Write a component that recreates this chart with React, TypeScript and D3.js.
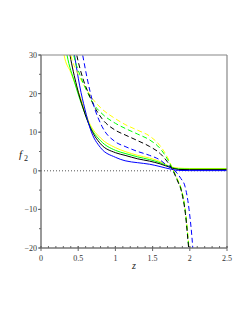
import React from "react";
import * as d3 from "d3";

const zSolid = [0.25, 0.31, 0.4, 0.52, 0.66, 0.8, 1.0, 1.13, 1.3, 1.46, 1.6, 1.75, 1.85, 2.0, 2.5];
const yellowSolid = [38, 30, 25.5, 19.5, 12, 8.5, 6, 5, 4, 3.3, 2.4, 1.0, 0.7, 0.6, 0.6];
const zGreenSolid = [0.3, 0.35, 0.45, 0.55, 0.66, 0.8, 1.0, 1.13, 1.3, 1.46, 1.6, 1.75, 1.85, 2.0, 2.5];
const greenSolid = [36, 30, 23, 17, 11.5, 7.8, 5.3, 4.5, 3.6, 2.9, 2.1, 0.9, 0.5, 0.45, 0.45];
const zBlackSolid = [0.34, 0.39, 0.48, 0.57, 0.66, 0.8, 1.0, 1.13, 1.3, 1.46, 1.6, 1.75, 1.85, 2.0, 2.5];
const blackSolid = [36, 30, 22, 16, 11.3, 7, 4.7, 4, 3.1, 2.5, 1.8, 0.8, 0.35, 0.3, 0.3];
const zBlueSolid = [0.4, 0.45, 0.52, 0.59, 0.66, 0.8, 1.0, 1.13, 1.3, 1.46, 1.6, 1.75, 1.85, 2.0, 2.5];
const blueSolid = [36, 30, 22, 16, 11, 6, 3.5, 2.6, 2.1, 1.7, 1.1, 0.4, 0.1, 0.05, 0.05];

const zYellowDash = [0.34, 0.4, 0.5, 0.6, 0.7, 0.82, 1.0, 1.13, 1.3, 1.46, 1.6, 1.7, 1.77, 1.83, 1.89, 1.94, 1.99, 2.02];
const yellowDash = [36, 30, 25, 21.5, 18.5, 16, 13.5, 12, 10.5, 9, 6.5, 3.5, 0.5, -2, -5, -10, -20, -26];
const zGreenDash = [0.38, 0.44, 0.54, 0.62, 0.7, 0.82, 1.0, 1.13, 1.3, 1.46, 1.6, 1.7, 1.77, 1.83, 1.89, 1.94, 1.99, 2.02];
const greenDash = [36, 30, 24, 20.5, 17.5, 14.8, 12.3, 11, 9.5, 8, 5.8, 3, 0.4, -2.2, -5.2, -10.5, -20.5, -26];
const zBlackDash = [0.42, 0.48, 0.57, 0.64, 0.7, 0.82, 1.0, 1.13, 1.3, 1.46, 1.6, 1.7, 1.77, 1.83, 1.89, 1.94, 1.99, 2.02];
const blackDash = [36, 30, 23.5, 20, 17.3, 13.5, 10.5, 9.3, 7.8, 6.3, 4.5, 2.3, 0.2, -2.4, -5.5, -11, -21, -26];
const zBlueDash = [0.5, 0.56, 0.62, 0.66, 0.7, 0.82, 1.0, 1.13, 1.3, 1.46, 1.6, 1.7, 1.8, 1.88, 1.935, 1.99, 2.04, 2.06];
const blueDash = [36, 30, 24, 20.5, 17.5, 11.5, 7.5, 6.3, 5, 4, 2.8, 1.3, 0, -2, -4, -10, -20, -26];

const xTicks = [0, 0.5, 1, 1.5, 2, 2.5];
const yTicks = [30, 20, 10, 0, -10, -20];

const series = [
  { z: zSolid, f: yellowSolid, color: "#ffff00", dash: false },
  { z: zGreenSolid, f: greenSolid, color: "#00ff00", dash: false },
  { z: zBlackSolid, f: blackSolid, color: "#000000", dash: false },
  { z: zBlueSolid, f: blueSolid, color: "#0000ff", dash: false },
  { z: zYellowDash, f: yellowDash, color: "#ffff00", dash: true },
  { z: zGreenDash, f: greenDash, color: "#00ff00", dash: true },
  { z: zBlackDash, f: blackDash, color: "#000000", dash: true },
  { z: zBlueDash, f: blueDash, color: "#0000ff", dash: true },
];

const left = 41, right = 227, top = 55, bottom = 248;

export default function App() {
  const x = d3.scaleLinear().domain([0, 2.5]).range([left, right]);
  const y = d3.scaleLinear().domain([-20, 30]).range([bottom, top]);
  const line = d3
    .line<[number, number]>()
    .x((d) => x(d[0]))
    .y((d) => y(d[1]))
    .curve(d3.curveMonotoneX);

  const minorX = d3.range(0, 2.5001, 0.1);
  const minorY = d3.range(-20, 30.001, 5);
  const font = "'Liberation Serif', 'DejaVu Serif', serif";

  return (
    <svg width={249} height={323} style={{ position: "absolute", left: 0, top: 0 }}>
      <rect width={249} height={323} fill="#fff" />
      <defs>
        <clipPath id="plot">
          <rect x={left} y={top} width={right - left} height={bottom - top} />
        </clipPath>
      </defs>
      <line x1={x(0)} x2={x(2.5)} y1={y(0)} y2={y(0)} stroke="#555" strokeWidth={1} strokeDasharray="1,2" />
      <g clipPath="url(#plot)">
        {series.map((s, i) => (
          <path
            key={i}
            d={line(s.z.map((z, j) => [z, s.f[j]] as [number, number])) || ""}
            fill="none"
            stroke={s.color}
            strokeWidth={1}
            strokeDasharray={s.dash ? "5,3" : undefined}
          />
        ))}
      </g>
      {/* frame */}
      <line x1={left} x2={right} y1={top} y2={top} stroke="#888" strokeWidth={1.2} />
      <line x1={right} x2={right} y1={top} y2={bottom} stroke="#888" strokeWidth={1.2} />
      <line x1={left} x2={left} y1={top} y2={bottom} stroke="#777" strokeWidth={1.5} />
      <line x1={left} x2={right} y1={bottom} y2={bottom} stroke="#777" strokeWidth={1.5} />
      {minorX.map((t, i) => (
        <line key={"mx" + i} x1={x(t)} x2={x(t)} y1={bottom} y2={bottom - 2} stroke="#666" strokeWidth={1} />
      ))}
      {xTicks.map((t) => (
        <g key={"x" + t}>
          <line x1={x(t)} x2={x(t)} y1={bottom - 2} y2={bottom + 3} stroke="#666" strokeWidth={1} />
          <text x={x(t)} y={261} fontSize={8} fontFamily={font} textAnchor="middle" fill="#333">
            {t}
          </text>
        </g>
      ))}
      {minorY.map((t, i) => (
        <line key={"my" + i} x1={left} x2={left - 2} y1={y(t)} y2={y(t)} stroke="#666" strokeWidth={1} />
      ))}
      {yTicks.map((t) => (
        <g key={"y" + t}>
          <line x1={left} x2={left - 3} y1={y(t)} y2={y(t)} stroke="#666" strokeWidth={1} />
          <text x={37} y={y(t) + 3} fontSize={8} fontFamily={font} textAnchor="end" fill="#333">
            {t < 0 ? "\u2212" + Math.abs(t) : t}
          </text>
        </g>
      ))}
      <text x={19} y={158} fontSize={11} fontFamily={font} fontStyle="italic" fill="#222">
        f
      </text>
      <text x={24} y={161} fontSize={8} fontFamily={font} fill="#222">
        2
      </text>
      <text x={132} y={269} fontSize={10} fontFamily={font} fontStyle="italic" fill="#222">
        z
      </text>
    </svg>
  );
}
